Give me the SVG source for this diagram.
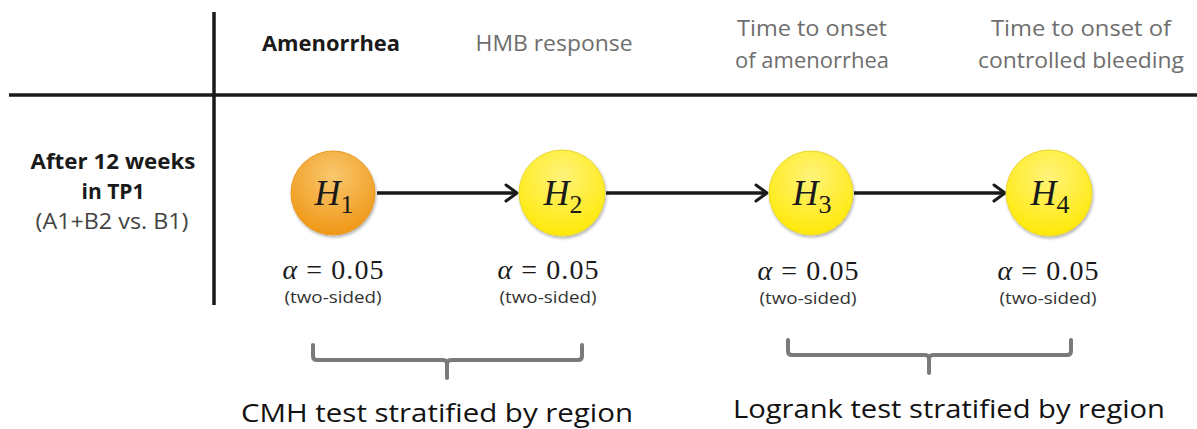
<svg xmlns="http://www.w3.org/2000/svg" width="1197" height="429" viewBox="0 0 1197 429">
  <defs>
    <radialGradient id="gOrange" cx="0.5" cy="0.3" r="0.75">
      <stop offset="0" stop-color="#f9c76e"/>
      <stop offset="1" stop-color="#ef9410"/>
    </radialGradient>
    <radialGradient id="gYellow" cx="0.5" cy="0.3" r="0.75">
      <stop offset="0" stop-color="#fff37a"/>
      <stop offset="1" stop-color="#ffe800"/>
    </radialGradient>
    <filter id="shadow" x="-30%" y="-30%" width="160%" height="160%">
      <feDropShadow dx="1" dy="2" stdDeviation="1.5" flood-color="#000" flood-opacity="0.3"/>
    </filter>
    <marker id="chev" viewBox="0 0 16 20" refX="14" refY="10" markerWidth="16" markerHeight="20" markerUnits="userSpaceOnUse" orient="auto">
      <polyline points="3,2 14,10 3,18" fill="none" stroke="#1a1a1a" stroke-width="3" stroke-linecap="round" stroke-linejoin="round"/>
    </marker>
  </defs>
  <style>
    .grid { stroke: #1a1a1a; stroke-width: 3.5; fill: none; }
    .hdr { font-family: "Open Sans", "Liberation Sans", sans-serif; font-size: 21px; fill: #6e6e6e; text-anchor: middle; }
    .hdrb { font-family: "Open Sans", "Liberation Sans", sans-serif; font-size: 21px; font-weight: bold; fill: #1a1a1a; text-anchor: middle; }
    .row { font-family: "Open Sans", "Liberation Sans", sans-serif; font-size: 21px; text-anchor: middle; }
    .hname { font-family: "Liberation Serif", serif; font-size: 36px; fill: #1a1a1a; text-anchor: middle; }
    .alpha { font-family: "Liberation Serif", serif; font-size: 28px; fill: #1a1a1a; text-anchor: middle; }
    .side { font-family: "Open Sans", "Liberation Sans", sans-serif; font-size: 17px; fill: #333; text-anchor: middle; }
    .edge { stroke: #1a1a1a; stroke-width: 3.5; fill: none; marker-end: url(#chev); }
    .brace { stroke: #7a7a7a; stroke-width: 4; fill: none; stroke-linejoin: round; stroke-linecap: round; }
    .foot { font-family: "Open Sans", "Liberation Sans", sans-serif; font-size: 25px; fill: #111; text-anchor: middle; }
  </style>

  <rect width="1197" height="429" fill="#fff"/>

  <!-- table rules -->
  <g id="table">
    <line class="grid" x1="214" y1="12" x2="214" y2="305"/>
    <line class="grid" x1="9" y1="95" x2="1197" y2="95"/>
  </g>

  <!-- column headers -->
  <g id="headers">
    <text class="hdrb" x="331" y="51" textLength="138" lengthAdjust="spacingAndGlyphs">Amenorrhea</text>
    <text class="hdr" x="554" y="51" textLength="157" lengthAdjust="spacingAndGlyphs">HMB response</text>
    <text class="hdr" x="812" y="36" textLength="150" lengthAdjust="spacingAndGlyphs">Time to onset</text>
    <text class="hdr" x="812" y="68" textLength="154" lengthAdjust="spacingAndGlyphs">of amenorrhea</text>
    <text class="hdr" x="1081" y="36" textLength="180" lengthAdjust="spacingAndGlyphs">Time to onset of</text>
    <text class="hdr" x="1081" y="68" textLength="206" lengthAdjust="spacingAndGlyphs">controlled bleeding</text>
  </g>

  <!-- row header -->
  <g id="row-label">
    <text class="row" x="113" y="169" font-weight="bold" fill="#1a1a1a" textLength="165" lengthAdjust="spacingAndGlyphs">After 12 weeks</text>
    <text class="row" x="113" y="199" font-weight="bold" fill="#1a1a1a">in TP1</text>
    <text class="row" x="112" y="229" fill="#444" textLength="153" lengthAdjust="spacingAndGlyphs">(A1+B2 vs. B1)</text>
  </g>

  <!-- connectors -->
  <g id="connectors">
    <line class="edge" x1="377" y1="193" x2="517" y2="193"/>
    <line class="edge" x1="606" y1="193" x2="767" y2="193"/>
    <line class="edge" x1="854" y1="193" x2="1005" y2="193"/>
  </g>

  <!-- hypotheses -->
  <g id="H1">
    <circle cx="333" cy="193" r="42" fill="url(#gOrange)" stroke="#e89a20" stroke-width="1" filter="url(#shadow)"/>
    <text class="hname" x="334" y="205"><tspan font-style="italic">H</tspan><tspan font-size="26" dy="8">1</tspan></text>
    <text class="alpha" x="333" y="279" textLength="101" lengthAdjust="spacing"><tspan font-style="italic">α</tspan> = 0.05</text>
    <text class="side" x="333" y="303" textLength="97" lengthAdjust="spacingAndGlyphs">(two-sided)</text>
  </g>
  <g id="H2">
    <circle cx="562" cy="193" r="43" fill="url(#gYellow)" stroke="#e8d830" stroke-width="1" filter="url(#shadow)"/>
    <text class="hname" x="563" y="205"><tspan font-style="italic">H</tspan><tspan font-size="26" dy="8">2</tspan></text>
    <text class="alpha" x="548" y="279" textLength="101" lengthAdjust="spacing"><tspan font-style="italic">α</tspan> = 0.05</text>
    <text class="side" x="548" y="303" textLength="97" lengthAdjust="spacingAndGlyphs">(two-sided)</text>
  </g>
  <g id="H3">
    <circle cx="811" cy="193" r="42" fill="url(#gYellow)" stroke="#e8d830" stroke-width="1" filter="url(#shadow)"/>
    <text class="hname" x="812" y="205"><tspan font-style="italic">H</tspan><tspan font-size="26" dy="8">3</tspan></text>
    <text class="alpha" x="808" y="280" textLength="101" lengthAdjust="spacing"><tspan font-style="italic">α</tspan> = 0.05</text>
    <text class="side" x="808" y="304" textLength="97" lengthAdjust="spacingAndGlyphs">(two-sided)</text>
  </g>
  <g id="H4">
    <circle cx="1049" cy="193" r="43" fill="url(#gYellow)" stroke="#e8d830" stroke-width="1" filter="url(#shadow)"/>
    <text class="hname" x="1050" y="205"><tspan font-style="italic">H</tspan><tspan font-size="26" dy="8">4</tspan></text>
    <text class="alpha" x="1048" y="280" textLength="101" lengthAdjust="spacing"><tspan font-style="italic">α</tspan> = 0.05</text>
    <text class="side" x="1048" y="304" textLength="97" lengthAdjust="spacingAndGlyphs">(two-sided)</text>
  </g>

  <!-- test groupings -->
  <g id="cmh">
    <path class="brace" d="M313,345 V356 Q313,360 317,360 H443 Q447,360 447,364 V378 M447,364 Q447,360 451,360 H578 Q582,360 582,356 V345"/>
    <text class="foot" x="437" y="422" textLength="392" lengthAdjust="spacingAndGlyphs">CMH test stratified by region</text>
  </g>
  <g id="logrank">
    <path class="brace" d="M788,340 V351 Q788,355 792,355 H925 Q929,355 929,359 V373 M929,359 Q929,355 933,355 H1067 Q1071,355 1071,351 V340"/>
    <text class="foot" x="949" y="418" textLength="432" lengthAdjust="spacingAndGlyphs">Logrank test stratified by region</text>
  </g>
</svg>
